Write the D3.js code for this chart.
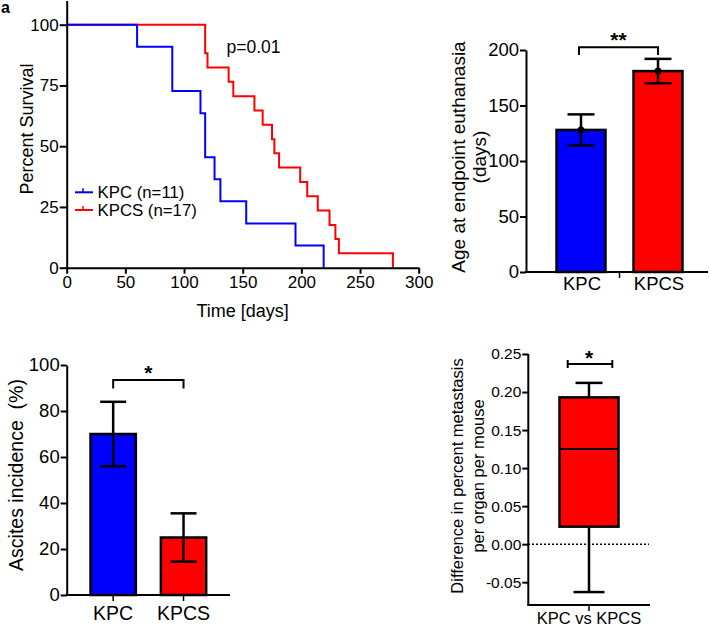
<!DOCTYPE html>
<html>
<head>
<meta charset="utf-8">
<script src="https://cdn.jsdelivr.net/npm/d3@7"></script>
<style>
  html, body { margin: 0; padding: 0; background: #fff; }
  svg { display: block; font-family: "Liberation Sans", Arial, Helvetica, sans-serif; }
  .axis path, .axis line { stroke: #000; stroke-width: 2px; }
  .axis text { fill: #000; }
</style>
</head>
<body>
<svg id="chart" width="710" height="628"></svg>
<script>
// ---------- DATA ----------
// Panel a: Kaplan-Meier survival
const kpcTimes  = [0, 60, 90, 114, 118, 126, 131, 153, 195, 219];
const kpcSurv   = [100, 90.9, 72.7, 63.6, 45.5, 36.4, 27.3, 18.2, 9.1, 0];
const kpcsTimes = [0, 118, 120, 138, 142, 160, 167, 175, 177, 181, 199, 205, 214, 224, 229, 232, 278];
const kpcsSurv  = [100, 88.2, 82.4, 76.5, 70.6, 64.7, 58.8, 52.9, 47.1, 41.2, 35.3, 29.4, 23.5, 17.6, 11.8, 5.9, 0];
const survXTicks = [0, 50, 100, 150, 200, 250, 300];
const survYTicks = [0, 25, 50, 75, 100];
const legendLabels = ["KPC (n=11)", "KPCS (n=17)"];
const pValueText = "p=0.01";

// Panel b: age at endpoint euthanasia
const groups = ["KPC", "KPCS"];
const ageMeans = [128, 181];
const ageErr = [14, 11];
const ageTicks = [0, 50, 100, 150, 200];

// Panel c: ascites incidence
const ascitesMeans = [70, 25];
const ascitesErr = [14, 10.5];
const ascitesTicks = [0, 20, 40, 60, 80, 100];

// Panel d: difference in percent metastasis (box plot)
const boxCategory = ["KPC vs KPCS"];
const boxMin = [-0.063];
const boxQ1 = [0.023];
const boxMedian = [0.125];
const boxQ3 = [0.193];
const boxMax = [0.212];
const boxTicks = [-0.05, 0.00, 0.05, 0.10, 0.15, 0.20, 0.25];

const colors = { KPC: "#0000ff", KPCS: "#ff0000" };

const svg = d3.select("#chart");

// panel letter
svg.append("text").attr("x", 1).attr("y", 13).attr("font-size", 16).attr("font-weight", "bold").text("a");

// ---------- Panel a: survival ----------
{
  const x = d3.scaleLinear().domain([0, 300]).range([66.7, 418.7]);
  const y = d3.scaleLinear().domain([0, 110]).range([267.7, 0.4]);
  const g = svg.append("g");

  const line = d3.line().x(d => x(d[0])).y(d => y(d[1])).curve(d3.curveStepAfter);
  const kpcs = kpcsTimes.map((t, i) => [t, kpcsSurv[i]]);
  const kpc = kpcTimes.map((t, i) => [t, kpcSurv[i]]);
  g.append("path").attr("d", line(kpcs)).attr("fill", "none").attr("stroke", colors.KPCS).attr("stroke-width", 2);
  g.append("path").attr("d", line(kpc)).attr("fill", "none").attr("stroke", colors.KPC).attr("stroke-width", 2);

  const xa = g.append("g").attr("class", "axis").attr("transform", `translate(0,${y(0)})`)
    .call(d3.axisBottom(x).tickValues(survXTicks).tickSize(6).tickSizeOuter(0).tickPadding(2).tickFormat(d3.format("d")));
  xa.selectAll("text").attr("font-size", 17).attr("dy", "0.75em");
  const ya = g.append("g").attr("class", "axis").attr("transform", `translate(${x(0)},0)`)
    .call(d3.axisLeft(y).tickValues(survYTicks).tickSize(7).tickSizeOuter(0).tickPadding(1).tickFormat(d3.format("d")));
  ya.selectAll("text").attr("font-size", 17);

  g.append("text").attr("x", (x(0) + x(300)) / 2).attr("y", 317).attr("text-anchor", "middle")
    .attr("font-size", 18).text("Time [days]");
  g.append("text").attr("transform", `translate(33,${(y(0) + y(110)) / 2 - 5}) rotate(-90)`)
    .attr("text-anchor", "middle").attr("font-size", 18).text("Percent Survival");
  g.append("text").attr("x", 226.5).attr("y", 53).attr("font-size", 17.5).text(pValueText);

  // legend
  const legY = [192.3, 210];
  [colors.KPC, colors.KPCS].forEach((c, i) => {
    g.append("line").attr("x1", 75).attr("x2", 93).attr("y1", legY[i]).attr("y2", legY[i]).attr("stroke", c).attr("stroke-width", 2);
    g.append("line").attr("x1", 83).attr("x2", 83).attr("y1", legY[i] - 4).attr("y2", legY[i]).attr("stroke", c).attr("stroke-width", 1.5);
    g.append("text").attr("x", 97.5).attr("y", legY[i] + 5.5).attr("font-size", 16.8).text(legendLabels[i]);
  });
}

// ---------- Panel b: age bars ----------
{
  const y = d3.scaleLinear().domain([0, 200]).range([272, 50]);
  const x = d3.scaleBand().domain(groups).range([542.5, 696.5]).paddingInner(0.364).paddingOuter(0.182);
  const g = svg.append("g");
  const axX0 = 526, axX1 = 708;

  g.selectAll("rect").data(groups).join("rect")
    .attr("x", d => x(d)).attr("width", x.bandwidth())
    .attr("y", (d, i) => y(ageMeans[i])).attr("height", (d, i) => y(0) - y(ageMeans[i]))
    .attr("fill", d => colors[d]).attr("stroke", "#000").attr("stroke-width", 2.5);

  groups.forEach((d, i) => {
    const cx = x(d) + x.bandwidth() / 2;
    const top = y(ageMeans[i] + ageErr[i]), bot = y(ageMeans[i] - ageErr[i]);
    g.append("line").attr("x1", cx).attr("x2", cx).attr("y1", top).attr("y2", bot).attr("stroke", "#000").attr("stroke-width", 2.5);
    [top, bot].forEach(yy => g.append("line").attr("x1", cx - 13.5).attr("x2", cx + 13.5).attr("y1", yy).attr("y2", yy).attr("stroke", "#000").attr("stroke-width", 2.5));
    g.append("circle").attr("cx", cx).attr("cy", y(ageMeans[i])).attr("r", 3.5).attr("fill", "#000");
    g.append("text").attr("x", cx + 1).attr("y", 290).attr("text-anchor", "middle").attr("font-size", 18.5).text(d);
  });

  // axes
  const ya = g.append("g").attr("class", "axis").attr("transform", `translate(${axX0},0)`)
    .call(d3.axisLeft(y).tickValues(ageTicks).tickSize(6).tickSizeOuter(0).tickPadding(1));
  ya.selectAll("text").attr("font-size", 18.5);
  g.append("line").attr("x1", axX0 - 1).attr("x2", axX1).attr("y1", y(0)).attr("y2", y(0)).attr("stroke", "#000").attr("stroke-width", 2);
  const mid = (x("KPC") + x.bandwidth() + x("KPCS")) / 2;
  g.append("line").attr("x1", mid).attr("x2", mid).attr("y1", y(0)).attr("y2", y(0) + 6).attr("stroke", "#000").attr("stroke-width", 1.5);

  // labels
  g.append("text").attr("transform", `translate(465,157) rotate(-90)`).attr("text-anchor", "middle")
    .attr("font-size", 19).text("Age at endpoint euthanasia");
  g.append("text").attr("transform", `translate(486,157) rotate(-90)`).attr("text-anchor", "middle")
    .attr("font-size", 19).text("(days)");

  // significance
  const x1 = x("KPC") + x.bandwidth() / 2 - 2, x2 = x("KPCS") + x.bandwidth() / 2;
  g.append("path").attr("d", `M${x1},55 V47.3 H${x2} V55`).attr("fill", "none").attr("stroke", "#000").attr("stroke-width", 2);
  g.append("text").attr("x", (x1 + x2) / 2).attr("y", 46.5).attr("text-anchor", "middle").attr("font-size", 21).attr("font-weight", "bold").text("**");
}

// ---------- Panel c: ascites ----------
{
  const y = d3.scaleLinear().domain([0, 100]).range([595, 365]);
  const x = d3.scaleBand().domain(groups).range([78, 218.7]).paddingInner(0.356).paddingOuter(0.178);
  const g = svg.append("g");

  g.selectAll("rect").data(groups).join("rect")
    .attr("x", d => x(d)).attr("width", x.bandwidth())
    .attr("y", (d, i) => y(ascitesMeans[i])).attr("height", (d, i) => y(0) - y(ascitesMeans[i]))
    .attr("fill", d => colors[d]).attr("stroke", "#000").attr("stroke-width", 2.5);

  groups.forEach((d, i) => {
    const cx = x(d) + x.bandwidth() / 2;
    const top = y(ascitesMeans[i] + ascitesErr[i]), bot = y(ascitesMeans[i] - ascitesErr[i]);
    g.append("line").attr("x1", cx).attr("x2", cx).attr("y1", top).attr("y2", bot).attr("stroke", "#000").attr("stroke-width", 2.5);
    [top, bot].forEach(yy => g.append("line").attr("x1", cx - 13).attr("x2", cx + 13).attr("y1", yy).attr("y2", yy).attr("stroke", "#000").attr("stroke-width", 2.5));
  });

  const ya = g.append("g").attr("class", "axis").attr("transform", `translate(66.7,0)`)
    .call(d3.axisLeft(y).tickValues(ascitesTicks).tickSize(6).tickSizeOuter(0).tickPadding(1));
  ya.selectAll("text").attr("font-size", 18.5);
  g.append("line").attr("x1", 65.7).attr("x2", 230).attr("y1", y(0)).attr("y2", y(0)).attr("stroke", "#000").attr("stroke-width", 2);
  groups.forEach(d => {
    const cx = x(d) + x.bandwidth() / 2;
    g.append("line").attr("x1", cx).attr("x2", cx).attr("y1", y(0)).attr("y2", y(0) + 6).attr("stroke", "#000").attr("stroke-width", 1.5);
    g.append("text").attr("x", cx).attr("y", 620).attr("text-anchor", "middle").attr("font-size", 19.5).text(d);
  });

  g.append("text").attr("transform", `translate(23,475) rotate(-90)`).attr("text-anchor", "middle")
    .attr("font-size", 19.5).attr("xml:space", "preserve").style("white-space", "pre").text("Ascites incidence  (%)");

  const x1 = x("KPC") + x.bandwidth() / 2, x2 = x("KPCS") + x.bandwidth() / 2;
  g.append("path").attr("d", `M${x1},388.5 V380 H${x2} V388.5`).attr("fill", "none").attr("stroke", "#000").attr("stroke-width", 2);
  g.append("text").attr("x", (x1 + x2) / 2).attr("y", 379.5).attr("text-anchor", "middle").attr("font-size", 21).attr("font-weight", "bold").text("*");
}

// ---------- Panel d: box plot ----------
{
  const y = d3.scaleLinear().domain([-0.08, 0.25]).range([605, 354]);
  const x = d3.scaleBand().domain(boxCategory).range([528, 650]).padding(0.348);
  const g = svg.append("g");
  const cat = boxCategory[0];
  const cx = x(cat) + x.bandwidth() / 2;

  // dotted zero line
  g.append("line").attr("x1", 528).attr("x2", 649).attr("y1", y(0)).attr("y2", y(0))
    .attr("stroke", "#000").attr("stroke-width", 1.5).attr("stroke-dasharray", "2,2");

  // whiskers
  g.append("line").attr("x1", cx).attr("x2", cx).attr("y1", y(boxMax[0])).attr("y2", y(boxMin[0])).attr("stroke", "#000").attr("stroke-width", 2.5);
  g.append("line").attr("x1", cx - 13.5).attr("x2", cx + 13.5).attr("y1", y(boxMax[0])).attr("y2", y(boxMax[0])).attr("stroke", "#000").attr("stroke-width", 2.5);
  g.append("line").attr("x1", cx - 15.5).attr("x2", cx + 15.5).attr("y1", y(boxMin[0])).attr("y2", y(boxMin[0])).attr("stroke", "#000").attr("stroke-width", 2.5);
  // box
  g.append("rect").attr("x", x(cat)).attr("width", x.bandwidth())
    .attr("y", y(boxQ3[0])).attr("height", y(boxQ1[0]) - y(boxQ3[0]))
    .attr("fill", colors.KPCS).attr("stroke", "#000").attr("stroke-width", 2.5);
  g.append("line").attr("x1", x(cat)).attr("x2", x(cat) + x.bandwidth()).attr("y1", y(boxMedian[0])).attr("y2", y(boxMedian[0]))
    .attr("stroke", "#000").attr("stroke-width", 2);

  const ya = g.append("g").attr("class", "axis").attr("transform", `translate(528.3,0)`)
    .call(d3.axisLeft(y).tickValues(boxTicks).tickSize(6).tickSizeOuter(0).tickPadding(1).tickFormat(d3.format(".2f")));
  ya.select(".domain").attr("d", `M0,${y(0.25)}V${y(-0.08)}`);
  ya.selectAll("text").attr("font-size", 15.5).text(d => d3.format(".2f")(d).replace("−", "-"));
  g.append("line").attr("x1", 527.3).attr("x2", 650).attr("y1", 605).attr("y2", 605).attr("stroke", "#000").attr("stroke-width", 2);
  g.append("line").attr("x1", cx).attr("x2", cx).attr("y1", 605).attr("y2", 611).attr("stroke", "#000").attr("stroke-width", 1.5);
  g.append("text").attr("x", cx).attr("y", 624).attr("text-anchor", "middle").attr("font-size", 16.5).text(cat);

  g.append("text").attr("transform", `translate(463,476) rotate(-90)`).attr("text-anchor", "middle")
    .attr("font-size", 16.5).text("Difference in percent metastasis");
  g.append("text").attr("transform", `translate(484,476) rotate(-90)`).attr("text-anchor", "middle")
    .attr("font-size", 16.5).text("per organ per mouse");

  // significance bar
  g.append("line").attr("x1", 567.7).attr("x2", 612.3).attr("y1", 364).attr("y2", 364).attr("stroke", "#000").attr("stroke-width", 2);
  [567.7, 612.3].forEach(xx => g.append("line").attr("x1", xx).attr("x2", xx).attr("y1", 360).attr("y2", 368).attr("stroke", "#000").attr("stroke-width", 2));
  g.append("text").attr("x", cx).attr("y", 364.5).attr("text-anchor", "middle").attr("font-size", 21).attr("font-weight", "bold").text("*");
}
</script>
</body>
</html>
